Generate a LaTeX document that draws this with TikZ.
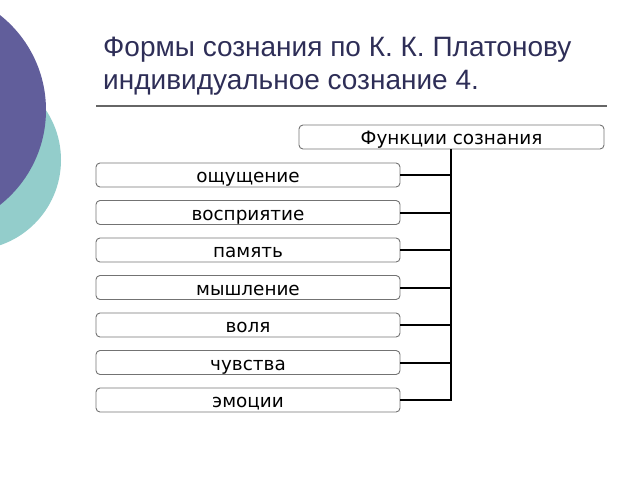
\documentclass[tikz,border=0pt]{standalone}
\usepackage{fontspec}
\setmainfont{Liberation Sans}
\newfontfamily\boxfont{DejaVu Sans}
\definecolor{purp}{HTML}{615E9B}
\definecolor{teal2}{HTML}{93CDCB}
\definecolor{titlec}{HTML}{2E2E57}
\tikzset{
  fbox/.style={draw=black!55, line width=0.9pt, rounded corners=4pt, minimum height=24pt, inner sep=0pt, text height=15pt, text depth=0pt, font=\boxfont\fontsize{18.4}{20}\selectfont, text=black},
  lbox/.style={fbox, minimum width=304pt},
  conn/.style={draw=black, line width=2pt},
  ttl/.style={anchor=base west, text=titlec, font=\fontsize{28}{32}\selectfont, inner sep=0pt}
}
\begin{document}
\begin{tikzpicture}[x=1pt,y=-1pt]
\useasboundingbox (0,0) rectangle (640,480);
\fill[teal2] (-29,160) circle (90);
\fill[purp] (-75,110) circle (121);
\node[ttl] (t1) at (103,56) {Формы сознания по К. К. Платонову};
\node[ttl] (t2) at (103,89) {индивидуальное сознание 4.};
\coordinate (r1) at (96,106);
\coordinate (r2) at (607,106);
\draw[black!60, line width=1.2pt] (r1) -- (r2);
\node[fbox, minimum width=305pt] (top) at (451.5,137) {Функции сознания};
\node[lbox] (b1) at (248,175) {ощущение};
\node[lbox] (b2) at (248,212.5) {восприятие};
\node[lbox] (b3) at (248,250) {память};
\node[lbox] (b4) at (248,287.5) {мышление};
\node[lbox] (b5) at (248,325) {воля};
\node[lbox] (b6) at (248,362.5) {чувства};
\node[lbox] (b7) at (248,400) {эмоции};
\coordinate (bus) at (451,400);
\foreach \i in {1,...,6} \draw[conn] (b\i.east) -- (b\i.east -| bus);
\draw[conn, line join=miter] (b7.east) -- (bus) -- (top.south -| bus);
\end{tikzpicture}
\end{document}
